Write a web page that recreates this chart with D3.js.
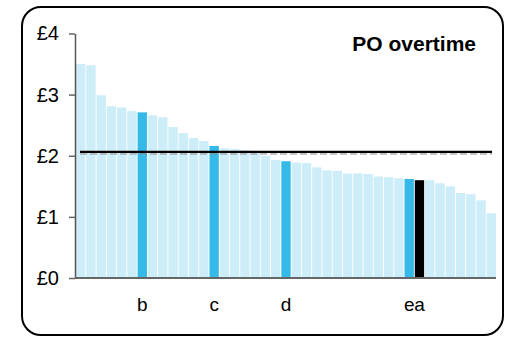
<!DOCTYPE html>
<html>
<head>
<meta charset="utf-8">
<script src="https://cdn.jsdelivr.net/npm/d3@7"></script>
<style>
  html, body { margin: 0; padding: 0; background: #fff; }
  svg { display: block; font-family: "Liberation Sans", Arial, sans-serif; }
</style>
</head>
<body>
<svg id="chart" width="506" height="337"></svg>
<script>
// Overtime cost per unit, ranked from highest to lowest
const values = [3.50, 3.48, 2.99, 2.81, 2.79, 2.73, 2.71, 2.66, 2.63, 2.47,
                2.37, 2.29, 2.24, 2.16, 2.12, 2.11, 2.09, 2.05, 2.00, 1.93,
                1.91, 1.89, 1.88, 1.81, 1.76, 1.75, 1.71, 1.71, 1.70, 1.66,
                1.65, 1.63, 1.62, 1.60, 1.60, 1.55, 1.50, 1.39, 1.37, 1.27,
                1.06];
// Axis label for each bar (only the named units carry one)
const labels = ["", "", "", "", "", "", "b", "", "", "",
                "", "", "", "c", "", "", "", "", "", "",
                "d", "", "", "", "", "", "", "", "", "",
                "", "", "e", "a", "", "", "", "", "", "",
                ""];
// Highlight style per bar: 0 = other, 1 = named comparator, 2 = focus unit
const highlight = [0, 0, 0, 0, 0, 0, 1, 0, 0, 0,
                   0, 0, 0, 1, 0, 0, 0, 0, 0, 0,
                   1, 0, 0, 0, 0, 0, 0, 0, 0, 0,
                   0, 0, 1, 2, 0, 0, 0, 0, 0, 0,
                   0];
const average = [2.05];
const yTicks = [0, 1, 2, 3, 4];
const title = "PO overtime";

const svg = d3.select("#chart");
const colors = ["#cdedf9", "#35b9e9", "#000000"];

// Rounded frame
svg.append("rect")
  .attr("x", 22).attr("y", 7)
  .attr("width", 481).attr("height", 328)
  .attr("rx", 19).attr("ry", 19)
  .attr("fill", "#fff")
  .attr("stroke", "#000")
  .attr("stroke-width", 2);

const x = d3.scaleBand()
  .domain(d3.range(values.length))
  .range([76, 496])
  .paddingInner(0.09)
  .paddingOuter(0);

const y = d3.scaleLinear()
  .domain([0, 4])
  .range([278, 33.5]);

// Bars
svg.append("g")
  .selectAll("rect")
  .data(values)
  .join("rect")
  .attr("x", (d, i) => x(i))
  .attr("y", d => y(d))
  .attr("width", x.bandwidth())
  .attr("height", d => y(0) - y(d))
  .attr("fill", (d, i) => colors[highlight[i]]);

// Y axis
const yAxis = svg.append("g")
  .attr("transform", "translate(75,0)")
  .call(d3.axisLeft(y)
    .tickValues(yTicks)
    .tickSize(6)
    .tickSizeOuter(0)
    .tickPadding(10)
    .tickFormat(d => "£" + d));
yAxis.select(".domain").attr("stroke", "#555").attr("stroke-width", 1.5);
yAxis.selectAll(".tick line").attr("stroke", "#666").attr("stroke-width", 1.5);
yAxis.selectAll(".tick text")
  .attr("fill", "#000")
  .style("font-size", "20px")
  .style("font-family", "'Liberation Sans', Arial, sans-serif");

// X axis: category labels under named bars, baseline drawn along zero
const xAxis = svg.append("g")
  .attr("transform", `translate(0,${y(0)})`)
  .call(d3.axisBottom(x)
    .tickSize(0)
    .tickPadding(20)
    .tickFormat(i => labels[i]));
xAxis.select(".domain")
  .attr("d", `M75,0H496`)
  .attr("stroke", "#666")
  .attr("stroke-width", 2);
xAxis.selectAll(".tick text")
  .attr("fill", "#000")
  .style("font-size", "19px")
  .style("font-family", "'Liberation Sans', Arial, sans-serif");

// Average reference line with a faint dashed underline
const avg = svg.append("g");
avg.selectAll("line.shadow")
  .data(average)
  .join("line")
  .attr("class", "shadow")
  .attr("x1", 80).attr("x2", 492)
  .attr("y1", d => y(d) + 1.3).attr("y2", d => y(d) + 1.3)
  .attr("stroke", "#8a8a8a")
  .attr("stroke-width", 1)
  .attr("stroke-dasharray", "7,3");
avg.selectAll("line.main")
  .data(average)
  .join("line")
  .attr("class", "main")
  .attr("x1", 80).attr("x2", 492)
  .attr("y1", d => y(d) - 0.8).attr("y2", d => y(d) - 0.8)
  .attr("stroke", "#000")
  .attr("stroke-width", 2.4);

// Title
svg.append("text")
  .attr("x", 476).attr("y", 51)
  .attr("text-anchor", "end")
  .style("font-size", "21px")
  .style("font-weight", "bold")
  .text(title);
</script>
</body>
</html>
